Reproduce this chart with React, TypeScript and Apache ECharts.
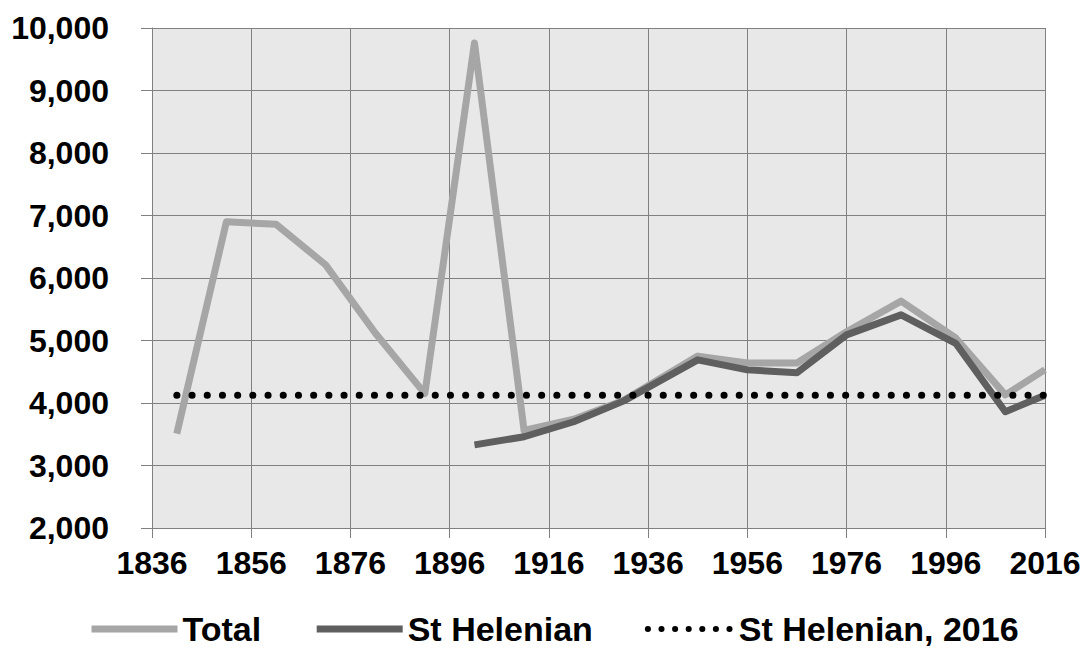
import React, { useEffect, useRef } from "react";
import * as echarts from "echarts";

const totalYears = [1841, 1851, 1861, 1871, 1881, 1891, 1901, 1911, 1921, 1931, 1946, 1956, 1966, 1976, 1987, 1998, 2008, 2016];
const totalValues = [3510, 6900, 6860, 6210, 5120, 4150, 9760, 3560, 3740, 4040, 4750, 4640, 4640, 5140, 5630, 5040, 4130, 4534];
const helenianYears = [1901, 1911, 1921, 1931, 1946, 1956, 1966, 1976, 1987, 1998, 2008, 2016];
const helenianValues = [3330, 3460, 3700, 4030, 4690, 4530, 4485, 5090, 5410, 4955, 3860, 4123];
const ref2016Years = [1841, 2016];
const ref2016Values = [4123, 4123];
const seriesNames = ["Total", "St Helenian", "St Helenian, 2016"];
const xMin = 1836, xMax = 2016, xStep = 20;
const yMin = 2000, yMax = 10000, yStep = 1000;

const FONT = "'Liberation Sans', Arial, sans-serif";

function pairs(xs: number[], ys: number[]) {
  return xs.map((x, i) => [x, ys[i]]);
}

export default function App() {
  const ref = useRef<HTMLDivElement>(null);
  useEffect(() => {
    if (!ref.current) return;
    const chart = echarts.init(ref.current, undefined, { renderer: "svg" });
    const dotted = { color: "#000000", width: 7, type: [0.1, 15.1] as any, cap: "round" as const };
    const hidden = { color: "rgba(0,0,0,0)", borderWidth: 0, opacity: 0 };
    chart.setOption({
      animation: false,
      backgroundColor: "#ffffff",
      grid: {
        left: 152,
        right: 42,
        top: 28,
        bottom: 120,
        show: true,
        backgroundColor: "#e8e8e8",
        borderWidth: 0,
      },
      xAxis: {
        type: "value",
        min: xMin,
        max: xMax,
        interval: xStep,
        axisLine: { show: true, lineStyle: { color: "#808080", width: 1 } },
        axisTick: { show: true, length: 10, lineStyle: { color: "#808080" } },
        splitLine: { show: true, lineStyle: { color: "#808080", width: 1 } },
        axisLabel: {
          color: "#000",
          fontSize: 32,
          fontWeight: "bold",
          fontFamily: FONT,
          margin: 19,
          formatter: (v: number) => String(v),
        },
      },
      yAxis: {
        type: "value",
        min: yMin,
        max: yMax,
        interval: yStep,
        axisLine: { show: true, lineStyle: { color: "#808080", width: 1 } },
        axisTick: { show: true, length: 11, lineStyle: { color: "#808080" } },
        splitLine: { show: true, lineStyle: { color: "#808080", width: 1 } },
        axisLabel: {
          color: "#000",
          fontSize: 32,
          fontWeight: "bold",
          fontFamily: FONT,
          margin: 43,
          formatter: (v: number) => v.toLocaleString("en-US"),
        },
      },
      legend: {
        top: 611,
        left: 88,
        padding: 0,
        itemWidth: 86,
        itemHeight: 14,
        itemGap: 52,
        textStyle: { color: "#000", fontSize: 34, lineHeight: 36, fontWeight: "bold", fontFamily: FONT },
        data: [
          { name: seriesNames[0], lineStyle: { color: "#a6a6a6", width: 7 }, itemStyle: hidden },
          { name: seriesNames[1], lineStyle: { color: "#5f5f5f", width: 7 }, itemStyle: hidden },
          { name: seriesNames[2], lineStyle: { ...dotted, width: 6, type: [0.1, 13.5] }, itemStyle: hidden },
        ],
      },
      series: [
        {
          name: seriesNames[0],
          type: "line",
          data: pairs(totalYears, totalValues),
          symbol: "none",
          lineStyle: { color: "#a6a6a6", width: 7, join: "round" },
          itemStyle: { color: "#a6a6a6" },
          z: 2,
        },
        {
          name: seriesNames[1],
          type: "line",
          data: pairs(helenianYears, helenianValues),
          symbol: "none",
          lineStyle: { color: "#5f5f5f", width: 7, join: "round" },
          itemStyle: { color: "#5f5f5f" },
          z: 3,
        },
        {
          name: seriesNames[2],
          type: "line",
          data: pairs(ref2016Years, ref2016Values),
          symbol: "none",
          lineStyle: dotted,
          itemStyle: { color: "#000000" },
          z: 4,
        },
      ],
    });
    return () => chart.dispose();
  }, []);
  return <div ref={ref} style={{ width: 1087, height: 648, position: "absolute", left: 0, top: 0 }} />;
}
